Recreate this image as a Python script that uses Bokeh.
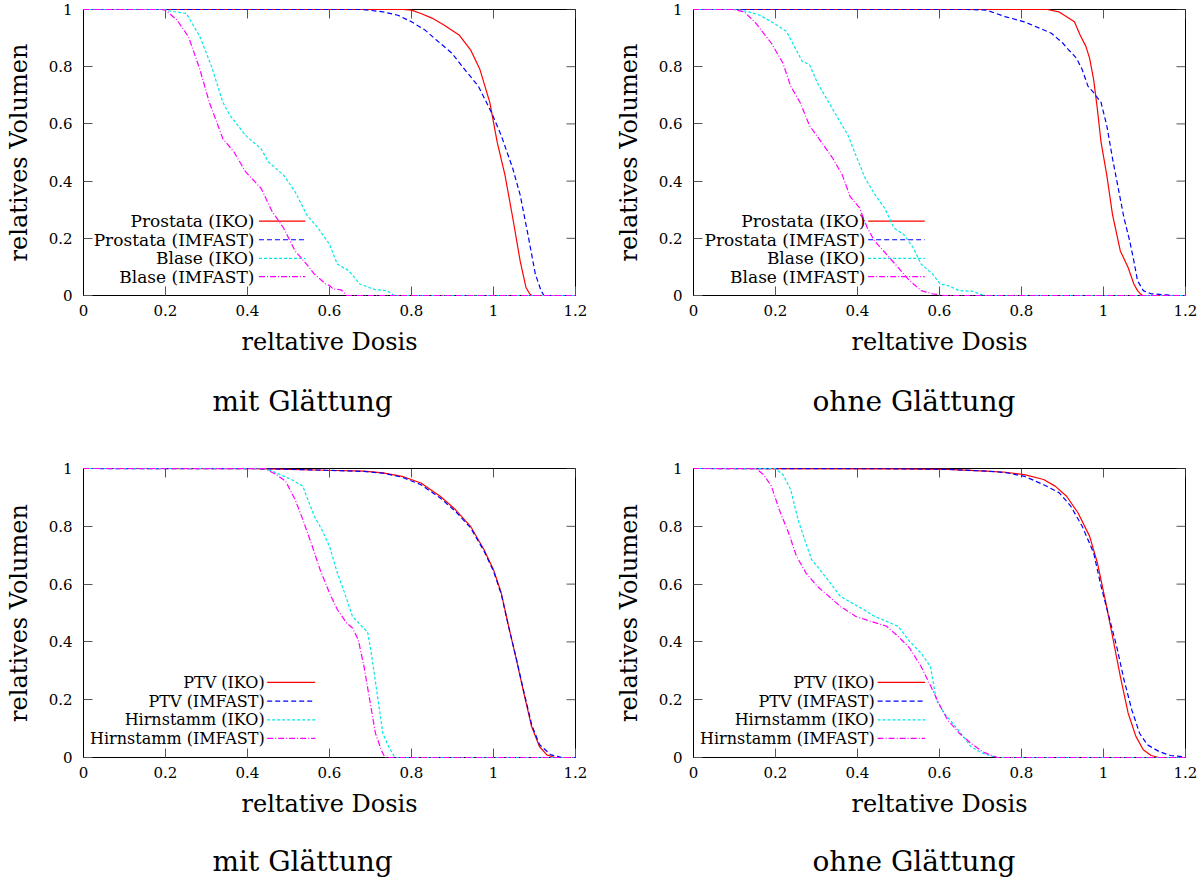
from bokeh.plotting import figure
from bokeh.layouts import column, row
from bokeh.models import FixedTicker, Title, NumeralTickFormatter, LabelSet, ColumnDataSource
from bokeh.core.properties import value
from bokeh.embed import file_html
from bokeh.resources import INLINE

# ---------------- data ----------------
x_ticks = [0, 0.2, 0.4, 0.6, 0.8, 1.0, 1.2]
y_ticks = [0, 0.2, 0.4, 0.6, 0.8, 1.0]

labels_top = ["Prostata (IKO)", "Prostata (IMFAST)", "Blase (IKO)", "Blase (IMFAST)"]
labels_bottom = ["PTV (IKO)", "PTV (IMFAST)", "Hirnstamm (IKO)", "Hirnstamm (IMFAST)"]
subtitles = ["mit Glättung", "ohne Glättung", "mit Glättung", "ohne Glättung"]

# top-left: mit Glättung
tl_pros_iko_x = [0, 0.78, 0.80, 0.823, 0.85, 0.879, 0.916, 0.944, 0.967, 0.991, 1.009, 1.028, 1.047, 1.065, 1.079, 1.088, 1.093, 1.2]
tl_pros_iko_y = [1, 1, 0.998, 0.986, 0.97, 0.946, 0.911, 0.859, 0.79, 0.675, 0.536, 0.421, 0.271, 0.121, 0.029, 0.006, 0, 0]
tl_pros_imf_x = [0, 0.68, 0.730, 0.767, 0.8, 0.833, 0.860, 0.898, 0.930, 0.963, 0.995, 1.019, 1.047, 1.065, 1.084, 1.102, 1.116, 1.123, 1.2]
tl_pros_imf_y = [1, 1, 0.992, 0.980, 0.957, 0.928, 0.894, 0.848, 0.790, 0.732, 0.640, 0.559, 0.444, 0.352, 0.213, 0.075, 0.017, 0, 0]
tl_blase_iko_x = [0, 0.2, 0.209, 0.251, 0.284, 0.312, 0.340, 0.358, 0.377, 0.395, 0.433, 0.451, 0.488, 0.516, 0.544, 0.572, 0.6, 0.619, 0.647, 0.674, 0.712, 0.740, 0.758, 1.2]
tl_blase_iko_y = [1, 1, 0.995, 0.986, 0.905, 0.802, 0.675, 0.628, 0.594, 0.560, 0.513, 0.467, 0.421, 0.363, 0.283, 0.236, 0.179, 0.110, 0.087, 0.040, 0.020, 0.017, 0, 0]
tl_blase_imf_x = [0, 0.19, 0.2, 0.228, 0.256, 0.284, 0.307, 0.340, 0.367, 0.395, 0.433, 0.460, 0.488, 0.516, 0.544, 0.563, 0.591, 0.6, 0.609, 0.628, 0.642, 1.2]
tl_blase_imf_y = [1, 1, 0.998, 0.963, 0.905, 0.79, 0.675, 0.548, 0.502, 0.433, 0.375, 0.294, 0.236, 0.156, 0.110, 0.075, 0.040, 0.035, 0.023, 0.020, 0, 0]

# top-right: ohne Glättung
tr_pros_iko_x = [0, 0.863, 0.891, 0.910, 0.929, 0.943, 0.957, 0.966, 0.976, 0.985, 0.994, 1.008, 1.022, 1.041, 1.060, 1.074, 1.083, 1.090, 1.095, 1.2]
tr_pros_iko_y = [1, 1, 0.992, 0.975, 0.957, 0.911, 0.871, 0.830, 0.755, 0.652, 0.536, 0.421, 0.283, 0.156, 0.098, 0.040, 0.017, 0.006, 0, 0]
tr_pros_imf_x = [0, 0.667, 0.714, 0.760, 0.807, 0.845, 0.873, 0.901, 0.915, 0.934, 0.948, 0.962, 0.976, 0.994, 1.008, 1.022, 1.036, 1.050, 1.064, 1.074, 1.083, 1.097, 1.116, 1.153, 1.172, 1.2]
tr_pros_imf_y = [1, 1, 0.998, 0.975, 0.957, 0.934, 0.917, 0.882, 0.859, 0.830, 0.790, 0.732, 0.709, 0.675, 0.594, 0.479, 0.375, 0.271, 0.190, 0.121, 0.052, 0.017, 0.006, 0.002, 0, 0]
tr_blase_iko_x = [0, 0.106, 0.134, 0.162, 0.190, 0.209, 0.227, 0.246, 0.265, 0.283, 0.302, 0.330, 0.358, 0.377, 0.396, 0.419, 0.443, 0.466, 0.489, 0.513, 0.536, 0.555, 0.583, 0.602, 0.620, 0.648, 0.681, 0.704, 0.714, 1.2]
tr_blase_iko_y = [1, 1, 0.992, 0.980, 0.957, 0.940, 0.923, 0.871, 0.819, 0.807, 0.744, 0.675, 0.606, 0.560, 0.490, 0.409, 0.352, 0.306, 0.236, 0.213, 0.167, 0.110, 0.075, 0.040, 0.035, 0.017, 0.015, 0.002, 0, 0]
tr_blase_imf_x = [0, 0.096, 0.124, 0.152, 0.190, 0.218, 0.237, 0.260, 0.283, 0.312, 0.340, 0.363, 0.382, 0.405, 0.424, 0.442, 0.471, 0.499, 0.527, 0.555, 0.583, 0.611, 1.2]
tr_blase_imf_y = [1, 1, 0.992, 0.952, 0.882, 0.813, 0.732, 0.675, 0.594, 0.536, 0.479, 0.421, 0.346, 0.306, 0.236, 0.190, 0.144, 0.098, 0.052, 0.017, 0.006, 0, 0]

# bottom-left: mit Glättung
bl_ptv_iko_x = [0, 0.45, 0.591, 0.684, 0.730, 0.777, 0.823, 0.870, 0.907, 0.944, 0.977, 1.0, 1.019, 1.037, 1.056, 1.074, 1.093, 1.112, 1.130, 1.149, 1.2]
bl_ptv_iko_y = [1, 0.999, 0.994, 0.991, 0.985, 0.973, 0.950, 0.904, 0.858, 0.800, 0.719, 0.650, 0.569, 0.453, 0.338, 0.223, 0.107, 0.038, 0.009, 0, 0]
bl_ptv_imf_x = [0, 0.45, 0.591, 0.684, 0.730, 0.777, 0.823, 0.870, 0.907, 0.944, 0.977, 1.0, 1.019, 1.037, 1.056, 1.074, 1.093, 1.112, 1.140, 1.158, 1.167, 1.2]
bl_ptv_imf_y = [1, 0.999, 0.994, 0.990, 0.984, 0.970, 0.944, 0.898, 0.852, 0.795, 0.714, 0.645, 0.565, 0.452, 0.340, 0.228, 0.114, 0.045, 0.009, 0.003, 0, 0]
bl_hirn_iko_x = [0, 0.442, 0.470, 0.507, 0.535, 0.544, 0.563, 0.581, 0.6, 0.619, 0.637, 0.656, 0.679, 0.693, 0.702, 0.716, 0.730, 0.744, 0.758, 0.763, 1.2]
bl_hirn_iko_y = [1, 1, 0.985, 0.962, 0.939, 0.904, 0.835, 0.789, 0.731, 0.639, 0.569, 0.488, 0.454, 0.434, 0.361, 0.223, 0.084, 0.038, 0.003, 0, 0]
bl_hirn_imf_x = [0, 0.442, 0.470, 0.493, 0.516, 0.535, 0.558, 0.577, 0.6, 0.619, 0.642, 0.656, 0.670, 0.684, 0.698, 0.712, 0.726, 0.735, 1.2]
bl_hirn_imf_y = [1, 1, 0.979, 0.956, 0.893, 0.823, 0.731, 0.650, 0.569, 0.512, 0.465, 0.448, 0.408, 0.316, 0.200, 0.084, 0.027, 0, 0]

# bottom-right: ohne Glättung
br_ptv_iko_x = [0, 0.5, 0.620, 0.714, 0.761, 0.807, 0.854, 0.882, 0.910, 0.938, 0.966, 0.985, 1.004, 1.022, 1.041, 1.060, 1.079, 1.097, 1.116, 1.135, 1.2]
br_ptv_iko_y = [1, 0.999, 0.997, 0.991, 0.987, 0.979, 0.962, 0.939, 0.904, 0.846, 0.766, 0.674, 0.547, 0.419, 0.281, 0.154, 0.073, 0.027, 0.007, 0, 0]
br_ptv_imf_x = [0, 0.5, 0.620, 0.714, 0.761, 0.807, 0.854, 0.892, 0.920, 0.948, 0.976, 0.994, 1.013, 1.032, 1.050, 1.069, 1.088, 1.107, 1.135, 1.163, 1.191, 1.2]
br_ptv_imf_y = [1, 0.999, 0.997, 0.991, 0.986, 0.973, 0.944, 0.916, 0.870, 0.800, 0.708, 0.593, 0.489, 0.385, 0.269, 0.165, 0.084, 0.044, 0.021, 0.007, 0.003, 0]
br_hirn_iko_x = [0, 0.199, 0.218, 0.237, 0.255, 0.274, 0.288, 0.302, 0.321, 0.340, 0.358, 0.386, 0.415, 0.442, 0.471, 0.499, 0.527, 0.555, 0.578, 0.592, 0.611, 0.639, 0.658, 0.676, 0.704, 0.732, 0.742, 1.2]
br_hirn_iko_y = [1, 1, 0.979, 0.927, 0.823, 0.742, 0.685, 0.661, 0.627, 0.592, 0.558, 0.535, 0.512, 0.488, 0.471, 0.454, 0.402, 0.361, 0.315, 0.200, 0.154, 0.107, 0.073, 0.038, 0.015, 0.003, 0, 0]
br_hirn_imf_x = [0, 0.152, 0.171, 0.190, 0.209, 0.232, 0.251, 0.274, 0.302, 0.330, 0.358, 0.396, 0.433, 0.471, 0.499, 0.527, 0.555, 0.583, 0.602, 0.620, 0.648, 0.676, 0.704, 0.723, 0.742, 1.2]
br_hirn_imf_y = [1, 1, 0.979, 0.939, 0.858, 0.777, 0.697, 0.639, 0.592, 0.558, 0.523, 0.488, 0.471, 0.454, 0.419, 0.379, 0.315, 0.234, 0.177, 0.130, 0.084, 0.050, 0.021, 0.009, 0, 0]

# ---------------- styles ----------------
SERIF = "DejaVu Serif, serif"
styles = [
    dict(line_color="#ff0000", line_dash="solid"),
    dict(line_color="#0000ff", line_dash="5 3"),
    dict(line_color="#00e8e8", line_dash="3 2"),
    dict(line_color="#ff00ff", line_dash="6 2 1 2"),
]
legend_rows = [0.26, 0.195, 0.13, 0.066]
TICK_PX = 9


def make_panel(series, labels, subtitle, width, height, left, right, top, bottom,
               leg_text_x, leg_x0, leg_x1, leg_size, title_x, title_pad):
    p = figure(width=width, height=height, x_range=(0, 1.2), y_range=(0, 1),
               output_backend="svg", toolbar_location=None,
               min_border_left=left, min_border_right=right,
               min_border_top=top, min_border_bottom=bottom)
    p.grid.visible = False
    p.outline_line_color = "black"
    p.outline_line_width = 1
    p.background_fill_color = "white"
    p.border_fill_color = "white"

    for ax, ticks in ((p.xaxis[0], x_ticks), (p.yaxis[0], y_ticks)):
        ax.ticker = FixedTicker(ticks=ticks)
        ax.formatter = NumeralTickFormatter(format="0.[0]")
        ax.major_tick_in = TICK_PX
        ax.major_tick_out = 0
        ax.minor_tick_line_color = None
        ax.major_tick_line_color = "#555555"
        ax.axis_line_color = "black"
        ax.major_label_text_font = SERIF
        ax.major_label_text_font_size = "15px"
        ax.major_label_text_color = "black"
        ax.axis_label_text_font = SERIF
        ax.axis_label_text_font_style = "normal"
        ax.axis_label_text_font_size = "24px"
        ax.axis_label_text_color = "black"
    p.xaxis.axis_label = "reltative Dosis"
    p.yaxis.axis_label = "relatives Volumen"
    p.xaxis.major_label_standoff = 9
    p.xaxis.axis_label_standoff = 9
    p.yaxis.major_label_standoff = 11
    p.yaxis.axis_label_standoff = 13

    # mirrored inward ticks on the top and right edges (gnuplot style)
    dx = TICK_PX * 1.2 / (width - left - right)
    dy = TICK_PX * 1.0 / (height - top - bottom)
    p.segment(x0=x_ticks, y0=[1] * len(x_ticks), x1=x_ticks, y1=[1 - dy] * len(x_ticks),
              line_color="#555555", line_width=1)
    p.segment(x0=[1.2] * len(y_ticks), y0=y_ticks, x1=[1.2 - dx] * len(y_ticks), y1=y_ticks,
              line_color="#555555", line_width=1)

    for (xs, ys), st in zip(series, styles):
        p.line(xs, ys, line_width=1.2, level="overlay", **st)

    # gnuplot-style key: right-aligned text followed by the line sample
    key_src = ColumnDataSource(dict(x=[leg_text_x] * 4, y=legend_rows, text=labels))
    p.add_layout(LabelSet(x="x", y="y", text="text", source=key_src, text_align="right",
                          text_baseline="middle", text_font=value(SERIF),
                          text_font_size=value(leg_size), text_color="black"))
    for yy, st in zip(legend_rows, styles):
        p.line([leg_x0, leg_x1], [yy, yy], line_width=1.2, **st)

    p.add_layout(Title(text=subtitle, align="left", vertical_align="bottom",
                       text_font=SERIF, text_font_size="28px", text_font_style="normal",
                       text_color="black", standoff=0, offset=title_x,
                       padding=dict(left=0, right=0, top=title_pad, bottom=0)), "below")
    return p


p1 = make_panel([(tl_pros_iko_x, tl_pros_iko_y), (tl_pros_imf_x, tl_pros_imf_y),
                 (tl_blase_iko_x, tl_blase_iko_y), (tl_blase_imf_x, tl_blase_imf_y)],
                labels_top, subtitles[0], 602, 452, 83, 27, 9, 157,
                0.417, 0.428, 0.541, "17px", 129, 24)
p2 = make_panel([(tr_pros_iko_x, tr_pros_iko_y), (tr_pros_imf_x, tr_pros_imf_y),
                 (tr_blase_iko_x, tr_blase_iko_y), (tr_blase_imf_x, tr_blase_imf_y)],
                labels_top, subtitles[1], 602, 452, 91, 19, 9, 157,
                0.419, 0.426, 0.564, "17px", 119, 24)
p3 = make_panel([(bl_ptv_iko_x, bl_ptv_iko_y), (bl_ptv_imf_x, bl_ptv_imf_y),
                 (bl_hirn_iko_x, bl_hirn_iko_y), (bl_hirn_imf_x, bl_hirn_imf_y)],
                labels_bottom, subtitles[2], 602, 429, 83, 27, 16, 124,
                0.442, 0.448, 0.565, "16px", 129, 22)
p4 = make_panel([(br_ptv_iko_x, br_ptv_iko_y), (br_ptv_imf_x, br_ptv_imf_y),
                 (br_hirn_iko_x, br_hirn_iko_y), (br_hirn_imf_x, br_hirn_imf_y)],
                labels_bottom, subtitles[3], 602, 429, 91, 19, 16, 124,
                0.442, 0.449, 0.565, "16px", 119, 22)

layout = column(row(p1, p2), row(p3, p4))
open("out.html", "w").write(file_html(layout, INLINE))
